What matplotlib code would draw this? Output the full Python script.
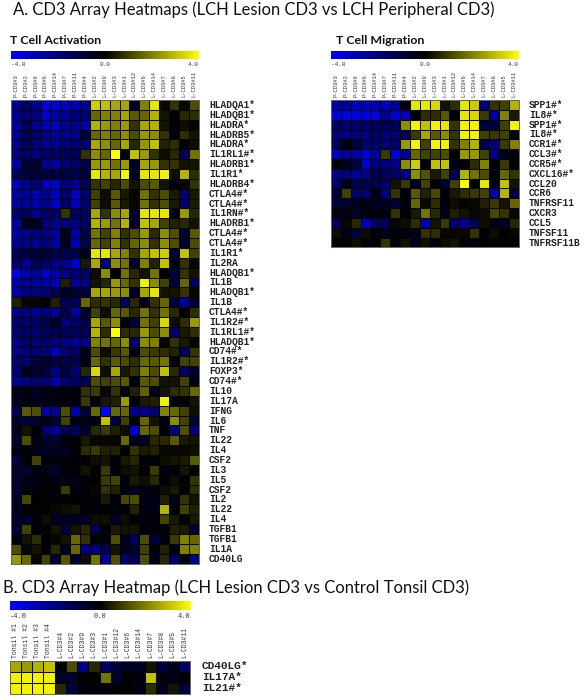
import numpy as np
import matplotlib
matplotlib.use("Agg")
import matplotlib.pyplot as plt
from matplotlib.colors import LinearSegmentedColormap

W, H = 585, 699

act_genes = ["HLADQA1*","HLADQB1*","HLADRA*","HLADRB5*","HLADRA*","IL1RL1#*","HLADRB1*","IL1R1*","HLADRB4*","CTLA4#*","CTLA4#*",
 "IL1RN#*","HLADRB1*","CTLA4#*","CTLA4#*","IL1R1*","IL2RA","HLADQB1*","IL1B","HLADQB1*","IL1B","CTLA4#*","IL1R2#*","IL1RL1#*",
 "HLADQB1*","CD74#*","IL1R2#*","FOXP3*","CD74#*","IL10","IL17A","IFNG","IL6","TNF","IL22","IL4","CSF2","IL3","IL5","CSF2","IL2",
 "IL22","IL4","TGFB1","TGFB1","IL1A","CD40LG"]
act_values = [
[-2.4,-1.6,-2.2,-3.4,-3.4,-3,-2.8,-2.4,3.2,3.0,2.6,2.6,-0.5,2.0,3.6,0.1,0.8,0.1,1.2],
[-2.4,-1.8,-2,-3.2,-2.6,-2.4,-2,-1.8,1.6,2.0,2.0,2.6,1.4,1.6,2.8,0.3,-0.1,0.6,0.7],
[-2.6,-1.4,-2.2,-2.8,-3.0,-2.2,-2.2,-2.8,2.8,2.4,2.0,2.4,0.8,2.6,2.8,0.3,-0.1,0.2,0.1],
[-2.4,-1.4,-1.6,-2.2,-2.4,-2.4,-2.2,-0.8,1.6,2,1.6,2.2,1.2,2.4,2.2,0.8,-0.2,0.7,0.3],
[-2.2,-1.4,-2,-2.4,-2.4,-2,-1.8,-2,2.6,2.2,1.6,2.6,0.6,2.4,3,0.5,0.7,0.0,0.2],
[-2,-1.8,-2,-1.6,-1.6,-1.4,-1.4,0.8,2.2,1.6,4,-0.4,3,2.4,0.8,0.2,0.6,-1.4,1.8],
[-2.6,-0.8,-0.8,-2.2,-2.6,-1.8,-1.6,-1.2,2.4,2.4,1.8,2.4,-0.7,2.6,2.4,0.8,0.8,0.3,0.3],
[-1.4,-1,-1,-1,-1,-1,-1.2,-0.9,3.6,2.8,2.6,3.8,-0.6,3.6,3.6,3.8,0.2,2.8,0.7],
[-3,-2.2,-1.8,-3,-3.2,-2,-2.4,-1.4,0.8,1,0.6,1.2,0.3,1.2,1.4,0.3,-0.2,0.1,0.8],
[-2.6,-2.4,-2.8,-2.2,-3,-1.8,-3,-1.8,1,0.2,1.4,0.4,0.1,1.8,0.8,1.2,0.4,-1.6,0.4],
[-2.6,-2.4,-2.8,-2.2,-3.2,-1.6,-3,-1.8,1,0.2,1.4,0.4,0.1,1.8,0.8,1.2,0.4,-1.6,0.4],
[-1.8,-1.6,-2.2,-1.6,-1.6,0.8,-1.6,-1.6,2.6,0.8,2.2,2.6,-0.7,3.6,3.6,3.6,-0.3,2.4,0.6],
[-2.6,-0.4,-0.4,-2,-2.2,-2,-2,-1.6,2.8,2.4,1.8,2.8,-0.7,3,2.6,1,0.5,0.6,0.3],
[-2.6,-2.2,-2,-2,-2.6,-0.4,-2.6,-1.2,1.8,1,2,0.8,1.2,2.4,0.6,2.2,1.2,-0.8,1.4],
[-2.4,-2,-2.4,-2,-2.6,-0.5,-2.8,-1.2,1.6,1,2,0.8,1.6,2.2,0.8,2.2,1.2,-0.8,1.2],
[-1.4,-1,-1,-0.8,-1.2,-1.2,-1.2,-0.4,3.6,3.6,2.6,2,0.8,2.6,3,3.2,-1,3,1],
[-1.6,-2.4,-1.4,-1.6,-2.2,-2.2,-3.2,0.4,2.6,-2,2.2,1.8,-0.8,2,0.5,3,-0.3,0.8,0.1],
[-3.6,-2.8,-2.4,-3.2,-2.6,-2.2,-1.8,-1.8,0.2,2.2,0,1.8,0.6,0.3,1.8,0,-1,0.8,0.3],
[-2.6,-2.4,-2.6,-2.6,-3,0.5,-2.4,-2.2,0.3,0.6,2.4,1.6,0.8,3.8,2.2,1,-1,1.6,-1.6],
[-2.6,-2,-2,-1.8,-1.4,-0.6,-0.8,-1,2.6,2.6,2.4,2.2,-0.6,2.6,3.6,0.3,0.3,0.8,0.1],
[0.5,0.1,0.1,-0.1,0.5,-1.4,-1.4,1.6,0.7,0.8,0.6,-1.6,0.6,-0.4,0.8,1.6,-1,-2.4,-0.8],
[-2.2,-2,-2.4,-2,-2.4,-1.2,-2.6,-0.8,1,0.2,1.6,1.4,0.6,1.8,0.8,1.8,0.6,-0.2,0.7],
[-1.8,-1.8,-1.6,-1.2,-0.6,-2,-1.6,-1.2,2.6,1.4,2.2,0,-1,1.8,1,3.4,0.2,0.7,2.4],
[-1.8,-1.6,-1.8,-1.4,-1.4,-1.4,-1.4,-1.4,2.8,0.7,4,0.7,0.6,2.4,1.2,2.2,-1.8,0.4,0.7],
[-2.2,-1.6,-1.8,-1.8,-2,-2.2,-2.4,-2.2,2,1.8,1.6,2.2,-1.8,2.2,2,0.1,0.8,0.4,0.1],
[-2.2,-2,-1.8,-2,-3,-1.8,-1.6,-0.4,1.2,0.2,0.9,1.4,-0.3,1.2,0.9,0.7,0.5,-1.6,0.8],
[-1.8,-1.8,-1,-0.8,-1,-1.2,-1.2,-0.4,1.6,0.8,1.4,1.2,0.7,1.6,1.4,1.8,-0.1,1,1],
[-1.8,-0.5,-0.8,-1,-2.2,-1,-2,0.6,3.4,0.2,2.6,0.4,0.8,2,1.2,3,0.6,-1.6,-0.8],
[-2.4,-2,-1.8,-1.8,-2.8,-1.8,-1.6,-1.4,1.2,1,1.2,1.4,-0.2,1.4,1.2,0.3,0.3,1,-0.2],
[-0.4,-0.3,-0.7,-0.3,-0.3,-0.3,-0.2,0.8,0.9,0.1,0.8,-0.3,0.5,1.5,-0.5,0.3,0.7,0.8,1.6],
[-0.5,-0.3,-0.5,-0.3,-0.3,-0.2,-0.2,0.9,-0.2,0.4,0.5,2.4,-0.2,0.4,0.5,3.8,-0.1,-0.1,0.3],
[-1.2,1.4,1.2,-2.6,-2.2,1.2,-2.6,-0.8,1.6,-4,1.6,1.6,-2.2,-2.2,-1.8,2,1.6,1,0.2],
[-0.7,-1,-1,-0.3,-0.8,1,-0.4,-0.4,-0.3,3,-1,1,-0.2,1.6,0.3,-0.2,2.2,1,-0.8],
[-0.4,0.3,-0.1,-1.8,-2.4,-1.4,-1.4,-0.8,0.6,0.9,0.5,0.2,-3.2,1.6,1.2,-0.1,-2,1.2,-1.8],
[-0.8,1.2,-0.4,-0.8,-0.8,-0.2,-0.1,0.4,0.1,0.1,0.1,1.6,-0.6,-0.6,0.6,0.6,1.4,0.4,0.3],
[-0.3,-0.2,-0.4,-0.6,-0.6,-0.6,-0.1,0.7,0.9,0.5,0.5,-0.1,0.8,0.4,0.5,0.1,0.1,0.1,0.2],
[-1,-0.2,1,-0.2,-0.2,-0.1,-0.1,-0.1,0.2,0.3,-0.2,0.4,0.6,-0.1,-0.1,0.2,0.3,0.4,1.4],
[-0.7,-0.9,-0.3,-0.5,-0.9,-0.1,-0.1,0.3,0,0.9,-0.2,0.2,0.3,-0.1,0.9,-0.3,-0.1,0.3,0],
[-0.8,-0.4,-0.3,-0.1,-0.3,-0.4,-0.4,-0.2,0,0.9,1,-0.2,0.4,0.2,0.6,-0.1,0.2,-0.1,0.8],
[-0.9,-0.3,-0.2,-0.1,-0.1,0.9,-0.2,-0.1,0.1,0.8,0.5,-0.3,-0.5,-0.2,-0.2,0.2,0.4,0,0.7],
[-0.6,1.1,-0.1,-0.1,0,0,0,-0.1,-0.1,0.4,-0.2,1.1,1.2,-0.4,-0.3,0.5,-0.5,0.8,0.3],
[-0.6,0,-0.1,0,0.1,0.2,0.3,-0.2,-0.2,-0.1,-0.1,-0.2,0.5,-0.3,-0.3,2.8,0,1,0.5],
[-0.7,-0.8,-0.2,0.2,-0.6,-0.6,-0.5,-0.7,0.2,0.2,-0.7,0.2,-0.1,-0.3,-0.2,1,0.4,-0.1,0.4],
[-0.9,1,-0.1,-0.1,0.3,-1,0.3,0.6,-1.3,-0.1,0.4,0.3,0.3,-0.1,-0.2,-0.1,0.5,0.4,-0.9],
[-0.3,0.3,0.7,-0.1,0.1,0.3,1.6,0.8,-0.1,-0.2,1.2,-0.5,-1.4,1.2,-1,-0.3,0.9,2,1.6],
[1.2,0.1,0.3,-0.1,0.6,-0.5,1.6,-2,-2,-1.2,0.3,-0.6,-0.9,1,-0.2,0.5,-0.3,2,2],
[2.4,1.6,0.1,1,-0.8,1.3,-0.7,0.2,1.8,-2.4,1.2,-1.8,-1.4,1.2,-0.5,0.6,-1.8,-0.3,-2.2],
]

mig_genes = ["SPP1#*","IL8#*","SPP1#*","IL8#*","CCR1#*","CCL3#*","CCR5#*","CXCL16#*","CCL20","CCR6","TNFRSF11","CXCR3","CCL5","TNFSF11","TNFRSF11B"]
mig_values = [
[-2.8,-2.4,-3,-3,-2.8,-3,-2.4,-0.2,3.6,3.6,3.4,0.3,0.7,3.6,3.2,-2,0.8,1,2.8],
[-3.6,-3.6,-3.6,-3.6,-3.6,-2.2,-3.4,-3,-0.1,0.7,0.7,1.4,-0.1,3.6,3.4,0.9,-2.4,2,0.4],
[-1.6,-1.8,-1.6,-1.6,-1.4,-1.4,-1.4,2.2,3.8,3,3.8,3.6,0.8,3.8,3.8,-1,-1,1,3.8],
[-2,-2.2,-2,-2.2,-1.6,-2,-2,-1.4,0.9,2.6,1.4,2.2,0.8,3.8,3.8,1,0.9,1,-0.3],
[-1.4,-0.1,-1,-1.8,-1.8,-2,-1.6,2.4,3.8,1,3.8,3.8,0.8,2,2.8,-1.4,-2,0.9,2],
[-3,-2.4,-2.6,-3.4,-2.6,0.9,-3.4,-2.4,1.6,1,1,1.2,-0.1,2.4,2.4,1,-2,-0.4,-0.2],
[-0.1,-0.6,-1,-3.2,-2,-2,-2.2,2.2,3.2,-0.1,3,3,-0.4,-0.2,0.7,2,-0.2,0.9,-0.1],
[-2.2,-2,-2.4,-2.2,-1.2,-1.4,-1.6,-2.2,2.2,1.3,0.4,1,-1.4,2.8,1.8,1.2,-0.2,1.6,0.8],
[-1.8,-0.4,-1.2,-1.2,-1.4,-1.6,0.3,0.9,-0.6,1,0,-0.9,1,4,0,3.6,-0.4,3,0.3],
[-0.8,1,-1.8,-1.8,-0.4,-2,0.8,-0.3,1.4,0.5,1.1,-0.2,0.4,0.7,0.9,1,-2.6,2.8,-1],
[-1,-0.7,-0.4,-0.4,-0.6,-0.6,-0.8,-0.2,1.6,0.1,0.7,-0.3,0.2,0.05,0.1,0.5,0.9,0.3,1.6],
[-0.3,-0.4,-0.7,-0.4,-0.3,-0.4,0.8,-0.1,0.4,1.8,0.6,-0.4,0.5,0.3,0.1,0.2,1.1,0.8,0.1],
[-1.4,0.1,0.6,-3,-1.6,-1.4,0.1,0.2,0.7,-2.8,0.3,0.9,-1.8,-2.4,-1.4,0.2,-0.3,-0.6,0.6],
[0.2,-0.4,-1,0.2,-0.3,-0.4,-0.3,-0.3,-0.4,0.8,0.7,0.1,0.1,0.1,0.8,-0.1,0.2,0,0.1],
[-0.1,0,0.2,-0.1,0,0.8,-0.1,0.3,-0.4,0.2,-0.2,0.2,0.3,-0.1,-0.1,-0.1,0,0,0],
]

tonsil_genes = ["CD40LG*","IL17A*","IL21#*"]
tonsil_values = [
[2.6,2.4,2.8,3.0,-0.1,1.2,-2,0.6,-1.6,-0.8,-0.6,-0.5,0.3,-1,-0.4,-1.6],
[3.8,3.8,3.8,3.8,-0.6,-0.8,-0.1,0,1.8,-0.8,-0.1,-0.3,3,-0.3,-0.4,-0.1],
[3.8,3.8,3.8,3.8,0.6,-1,-0.2,-0.1,-0.2,-0.1,-0.1,-0.4,0.7,-0.5,0.3,-1],
]

samples_a = ["P-CD3#3","P-CD3#2","P-CD3#9","P-CD3#6","P-CD3#14","P-CD3#7","P-CD3#11","P-CD3#4",
             "L-CD3#2","L-CD3#9","L-CD3#3","L-CD3#1","L-CD3#12","L-CD3#6","L-CD3#14","L-CD3#7","L-CD3#8","L-CD3#5","L-CD3#11"]
samples_b = ["Tonsil #1","Tonsil #2","Tonsil #3","Tonsil #4","L-CD3#4","L-CD3#2","L-CD3#9","L-CD3#3","L-CD3#1",
             "L-CD3#12","L-CD3#6","L-CD3#14","L-CD3#7","L-CD3#8","L-CD3#5","L-CD3#11"]
scale_ticks = ["-4.0","0.0","4.0"]

cmap = LinearSegmentedColormap.from_list("by", [(0,0,1),(0,0,0),(1,1,0)])
fig = plt.figure(figsize=(W/100, H/100), dpi=100, facecolor="white")

def ax_px(x0, y0, x1, y1):
    return fig.add_axes([x0/W, 1-y1/H, (x1-x0)/W, (y1-y0)/H])

def ftext(x, y, s, **kw):
    fig.text(x/W, 1-y/H, s, **kw)

def heat(values, genes, samples, x0, y0, x1, y1, bar_y0, bar_y1, tick_y, tick_fs, lab_bottom, lab_fs, gene_x, gene_fs):
    bar = ax_px(x0, bar_y0, x1, bar_y1)
    bar.imshow(np.linspace(-4, 4, 256)[None, :], cmap=cmap, vmin=-4, vmax=4, aspect="auto")
    bar.axis("off")
    for t, xx, ha in zip(scale_ticks, (x0, (x0+x1)/2, x1), ("left", "center", "right")):
        ftext(xx, tick_y, t, fontsize=tick_fs, family="Liberation Mono", color="#333333", ha=ha, va="center")
    ax = ax_px(x0, y0, x1, y1)
    arr = np.array(values)
    ax.pcolormesh(np.arange(arr.shape[1]+1), np.arange(arr.shape[0]+1), arr, cmap=cmap, vmin=-4, vmax=4,
                  edgecolors="#050505", linewidth=0.65)
    ax.invert_yaxis()
    ax.set_xticks([]); ax.set_yticks([])
    for s in ax.spines.values():
        s.set_color("#666666"); s.set_linewidth(0.7)
    cw = (x1-x0)/arr.shape[1]; ch = (y1-y0)/arr.shape[0]
    for i, s in enumerate(samples):
        ftext(x0+(i+.5)*cw, lab_bottom, s, rotation=90, fontsize=lab_fs, family="Liberation Mono",
              color="#333333", ha="center", va="bottom")
    for i, g in enumerate(genes):
        ftext(gene_x, y0+(i+.5)*ch, g, fontsize=gene_fs, family="Liberation Mono", weight="bold",
              color="#222222", ha="left", va="center")

heat(act_values, act_genes, samples_a, 11, 100, 198.5, 563.5, 51, 59, 65, 4.4, 97, 4.0, 209, 6.9)
heat(mig_values, mig_genes, samples_a, 331, 100, 518.5, 247.5, 51, 59, 65, 4.4, 97, 4.0, 529, 6.9)
heat(tonsil_values, tonsil_genes, samples_b, 9.5, 660.5, 190, 694, 601, 610, 617, 5.0, 658, 4.7, 202, 8.0)

ftext(13, 10, "A. CD3 Array Heatmaps (LCH Lesion CD3 vs LCH Peripheral CD3)", fontsize=12.0, family="Lato", color="#111111", va="center")
ftext(3, 588, "B. CD3 Array Heatmap (LCH Lesion CD3 vs Control Tonsil CD3)", fontsize=12.0, family="Lato", color="#111111", va="center")
ftext(10, 40, "T Cell Activation", fontsize=8.9, family="Lato", weight="bold", color="#111111", va="center")
ftext(336, 40, "T Cell Migration", fontsize=8.9, family="Lato", weight="bold", color="#111111", va="center")

fig.savefig("out.png", dpi=100, facecolor="white")
